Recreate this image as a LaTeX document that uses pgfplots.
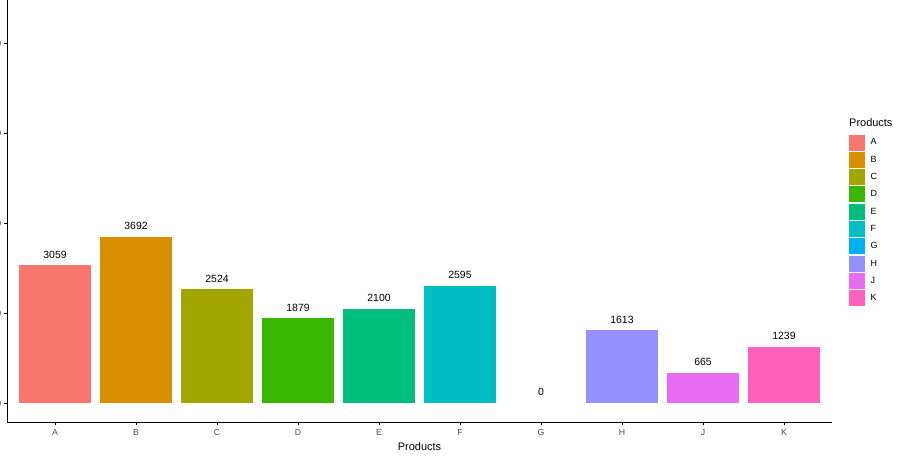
\documentclass[border=0pt]{standalone}
\usepackage{fontspec}
\setmainfont{Liberation Sans}
\usepackage{pgfplots}
\pgfplotsset{compat=1.18}

% ggplot hue palette, 10 levels
\definecolor{cA}{HTML}{F8766D}
\definecolor{cB}{HTML}{D89000}
\definecolor{cC}{HTML}{A3A500}
\definecolor{cD}{HTML}{39B600}
\definecolor{cE}{HTML}{00BF7D}
\definecolor{cF}{HTML}{00BFC4}
\definecolor{cG}{HTML}{00B0F6}
\definecolor{cH}{HTML}{9590FF}
\definecolor{cJ}{HTML}{E76BF3}
\definecolor{cK}{HTML}{FF62BC}
\definecolor{axgray}{HTML}{4D4D4D}

\begin{document}
\begin{tikzpicture}
\begin{axis}[
    name=ax,
    scale only axis,
    width=825bp, height=422bp,
    xmin=-0.593, xmax=9.593,
    ymin=-422, ymax=8956,
    axis x line*=bottom, axis y line*=left,
    axis line style={black, line width=0.9bp},
    tick style={black, line width=0.9bp},
    tick align=outside,
    major tick length=3.5bp,
    xtick={0,...,9},
    xticklabels={A,B,C,D,E,F,G,H,J,K},
    ytick={0,2000,4000,6000,8000},
    /pgf/number format/assume math mode=true,
    /pgf/number format/1000 sep={},
    ticklabel style={font=\fontsize{8.8}{10}\selectfont, text=axgray},
    yticklabel style={inner xsep=0pt, xshift=-2bp},
    xlabel={Products},
    xlabel style={font=\fontsize{11}{13}\selectfont},
    ybar, bar width=0.9, bar shift=0pt,
    every axis plot/.append style={draw=none},
    nodes near coords,
    every node near coord/.append style={font=\fontsize{10.5}{12}\selectfont, text=black, anchor=south, inner sep=0pt, yshift=7bp},
    legend image code/.code={\fill[#1,draw=none] (0bp,-8bp) rectangle (16bp,8bp);},
    legend style={at={(1.0206,0.6816)}, anchor=north west, draw=none, fill=none,
        inner sep=0pt, row sep=1.3bp, column sep=0pt, cells={anchor=west},
        nodes={inner ysep=0pt, inner xsep=0pt},
        font=\fontsize{9}{10}\selectfont},
    legend cell align=left,
    legend style={/tikz/every odd column/.append style={column sep=5.5bp}},
]
\addplot[fill=cA] coordinates {(0,3059)};
\addplot[fill=cB] coordinates {(1,3692)};
\addplot[fill=cC] coordinates {(2,2524)};
\addplot[fill=cD] coordinates {(3,1879)};
\addplot[fill=cE] coordinates {(4,2100)};
\addplot[fill=cF] coordinates {(5,2595)};
\addplot[fill=none, legend image code/.code={\fill[cG] (0bp,-8bp) rectangle (16bp,8bp);}] coordinates {(6,0)};
\addplot[fill=cH] coordinates {(7,1613)};
\addplot[fill=cJ] coordinates {(8,665)};
\addplot[fill=cK] coordinates {(9,1239)};
\legend{A,B,C,D,E,F,G,H,J,K}
\end{axis}
\node[anchor=base west, font=\fontsize{11}{13}\selectfont, inner sep=0pt] at ([xshift=17bp,yshift=-127bp]ax.north east) {Products};
\pgfresetboundingbox
\useasboundingbox ([xshift=-7bp,yshift=-35bp]ax.south west) rectangle ([xshift=71bp]ax.north east);
\end{tikzpicture}
\end{document}
